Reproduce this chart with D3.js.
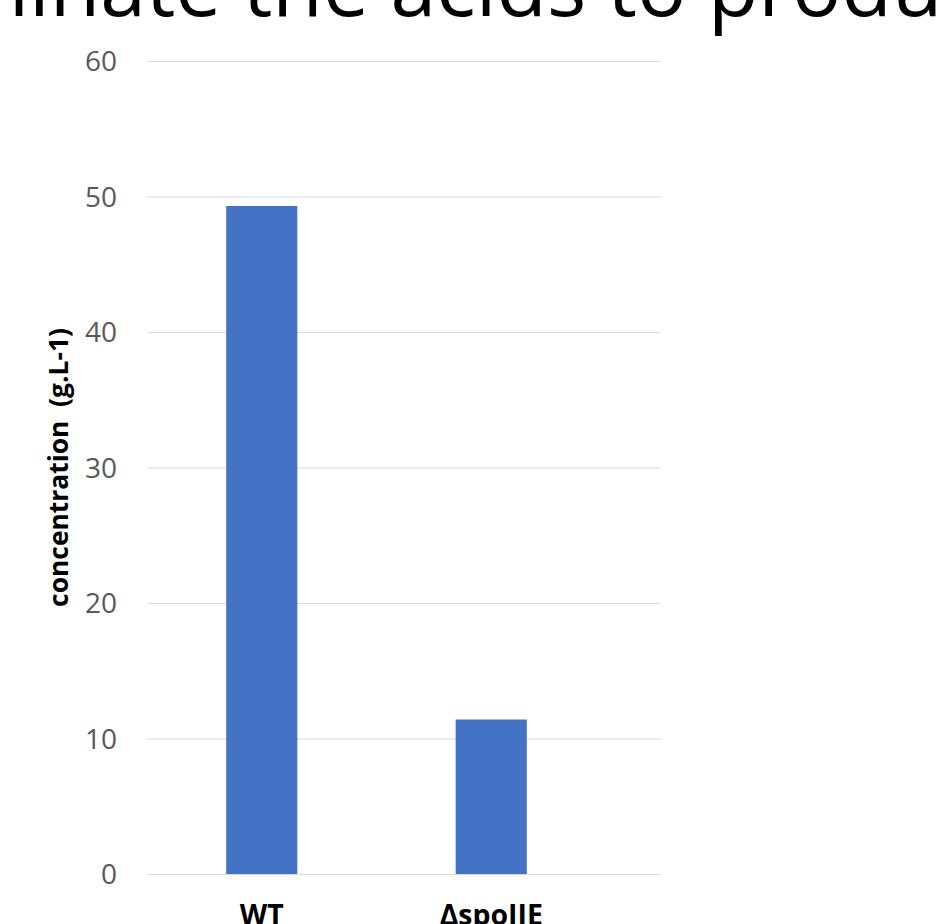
<!DOCTYPE html>
<html><head><meta charset="utf-8">
<script src="https://cdn.jsdelivr.net/npm/d3@7"></script>
<style>html,body{margin:0;padding:0;background:#fff;overflow:hidden}</style>
</head><body>
<svg id="c" width="936" height="924"></svg>
<script>
// ---- data ----
const categories = ["WT", "ΔspoIIE"];
const values = [49.3, 11.4];
const yTicks = [0, 10, 20, 30, 40, 50, 60];
const yTitle = "concentration  (g.L-1)";
const headline = "minate the acids to produce";

// ---- layout ----
const svg = d3.select("#c");
const gridLeft = 147, gridRight = 661, barsRight = 606;
const yTop = 61, yBottom = 874;

const y = d3.scaleLinear().domain([0, 60]).range([yBottom, yTop]);
const x = d3.scaleBand().domain(categories).range([gridLeft, barsRight])
  .paddingInner(0.69).paddingOuter(0.345);

function fit(sel, target) {
  const fs = parseFloat(sel.attr("font-size"));
  const w = sel.node().getComputedTextLength();
  sel.attr("font-size", fs * target / w);
}

// headline (clipped at top)
const hl = svg.append("text")
  .attr("x", 0).attr("y", 16)
  .attr("font-family", "Open Sans").attr("font-size", 80)
  .attr("fill", "#000")
  .style("white-space", "pre")
  .text(headline);
{
  const n = hl.node();
  const iT = headline.indexOf("the"), iP = headline.indexOf("produce");
  let d = n.getStartPositionOfChar(iP).x - n.getStartPositionOfChar(iT).x;
  hl.attr("font-size", 80 * (708 - 243) / d);
  const px = n.getStartPositionOfChar(iT).x;
  hl.attr("x", 243 - px);
}

// gridlines + tick labels
const axisG = svg.append("g")
  .attr("transform", `translate(${gridLeft},0)`)
  .call(d3.axisLeft(y).tickValues(yTicks).tickSize(-(gridRight - gridLeft)).tickPadding(30).tickFormat(d3.format("d")));
axisG.select(".domain").remove();
axisG.selectAll(".tick line").attr("stroke", "#d9d9d9").attr("stroke-width", 1.2);
axisG.selectAll(".tick text")
  .attr("font-family", "Open Sans").attr("font-size", 28)
  .attr("fill", "#595959").attr("dy", "0.34em");

// bars
svg.append("g").selectAll("rect")
  .data(values)
  .join("rect")
  .attr("x", (d, i) => x(categories[i]))
  .attr("width", x.bandwidth())
  .attr("y", d => y(d))
  .attr("height", d => y(0) - y(d))
  .attr("fill", "#4472c4");

// x labels
const xl = svg.append("g").selectAll("text")
  .data(categories)
  .join("text")
  .attr("x", d => x(d) + x.bandwidth() / 2)
  .attr("y", 925)
  .attr("text-anchor", "middle")
  .attr("font-family", "Open Sans").attr("font-weight", "bold").attr("font-size", 26)
  .attr("fill", "#000")
  .text(d => d);
{
  const first = d3.select(xl.nodes()[0]);
  fit(first, 44);
  xl.attr("font-size", first.attr("font-size"));
}

// y title
const yt = svg.append("text")
  .attr("transform", `translate(68,${(328 + 607) / 2}) rotate(-90)`)
  .attr("text-anchor", "middle")
  .attr("font-family", "Open Sans").attr("font-weight", "bold").attr("font-size", 26)
  .attr("fill", "#000")
  .style("white-space", "pre")
  .text(yTitle);
fit(yt, 279);
</script>
</body></html>
